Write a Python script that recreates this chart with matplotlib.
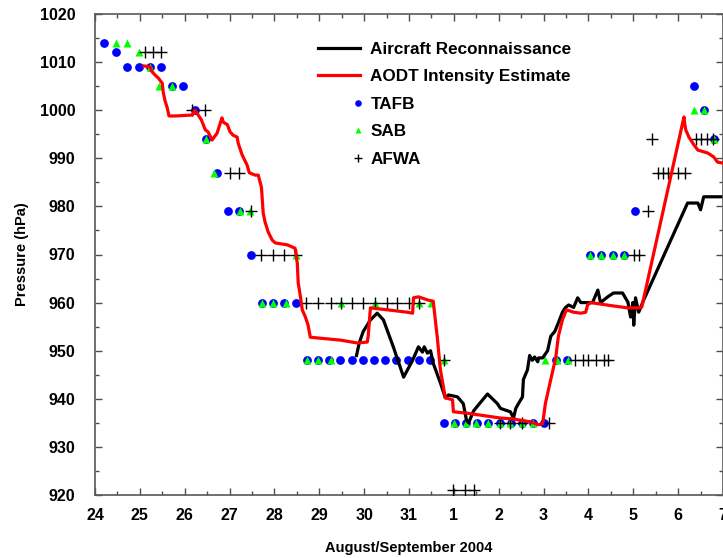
import numpy as np
import matplotlib
matplotlib.use("Agg")
import matplotlib.pyplot as plt
from matplotlib.legend_handler import HandlerLine2D

plt.rcParams['font.family'] = ['Liberation Sans', 'DejaVu Sans']
plt.rcParams['font.weight'] = 'bold'

# x = days since 24 Aug 2004 00Z
day_labels = ['24', '25', '26', '27', '28', '29', '30', '31',
              '1', '2', '3', '4', '5', '6', '7']

# Aircraft reconnaissance
recon_t = [5.83, 5.89, 5.98, 6.14, 6.29, 6.43, 6.65, 6.88, 7.08, 7.21, 7.30, 7.34,
           7.41, 7.48, 7.54, 7.70, 7.81, 7.88, 8.08, 8.21, 8.28, 8.33, 8.44, 8.59,
           8.75, 8.97, 9.04, 9.26, 9.33, 9.38, 9.44, 9.53, 9.55, 9.64, 9.69, 9.75,
           9.80, 9.87, 9.89, 9.98, 10.09, 10.16, 10.25, 10.33, 10.42, 10.49, 10.56,
           10.67, 10.76, 10.83, 10.98, 11.09, 11.21, 11.27, 11.43, 11.56, 11.76,
           11.88, 11.94, 11.99, 12.01, 12.05, 12.12, 12.23, 13.21, 13.44, 13.50,
           13.57, 13.79, 13.95]
recon_p = [949, 951.6, 954, 956.4, 957.8, 956.4, 950.8, 944.5, 948, 950.8, 949.7, 950.8,
           949.5, 950, 947.4, 943.3, 940.2, 940.8, 940.4, 939, 935.6, 935, 937.5, 939.2,
           941, 939, 938, 937.3, 936, 938, 939, 940.4, 944, 946, 949, 948,
           948.7, 947.7, 948.5, 948.5, 950, 953, 954, 955.8, 958, 959, 959.5,
           959, 961, 960, 960, 960, 962.6, 960, 961.2, 962, 962,
           960.1, 957, 960, 955.3, 961, 958, 960.5, 980.7, 980.7, 979.3,
           982, 982, 982]

# AODT intensity estimate
aodt_t = [1.09, 1.23, 1.27, 1.34, 1.41, 1.50, 1.52, 1.56, 1.61, 1.65, 1.79, 2.17,
          2.23, 2.30, 2.37, 2.46, 2.52, 2.61, 2.72, 2.83, 2.86, 2.95, 3.01, 3.08,
          3.17, 3.19, 3.28, 3.39, 3.44, 3.57, 3.64, 3.71, 3.73, 3.75, 3.79, 3.86,
          3.95, 4.02, 4.29, 4.46, 4.51, 4.53, 4.58, 4.62, 4.69, 4.75, 4.80, 5.02,
          5.47, 5.85, 6.07, 6.09, 6.14, 6.52, 6.96, 7.08, 7.10, 7.21, 7.43, 7.54,
          7.63, 7.70, 7.81, 7.97, 7.99, 8.30, 9.04, 9.33, 9.71, 9.89, 9.98, 10.04,
          10.16, 10.27, 10.33, 10.42, 10.51, 10.67, 10.83, 10.94, 10.98, 11.05,
          11.27, 11.56, 11.88, 12.12, 12.19, 13.13, 13.15, 13.17, 13.24, 13.35,
          13.44, 13.66, 13.79, 13.88, 14.0]
aodt_p = [1009.2, 1009, 1008, 1007.3, 1006.7, 1005.6, 1003.8, 1002, 1000.5, 998.8, 998.8, 999,
          1000, 999, 998, 995.9, 995.5, 993.8, 995.2, 998.4, 997.5, 997, 995.5, 994.8,
          994.4, 993.2, 990.7, 988.6, 987, 986.5, 986.5, 984, 981.3, 978.6, 976.8, 974.7,
          973, 972.4, 972, 971.3, 968.2, 964.1, 961.2, 958.5, 957, 955.3, 952.8, 952.6,
          952.2, 951.6, 951.8, 953, 958.9, 958.5, 958, 957.8, 961, 961.2, 960.5, 960.3,
          952.8, 946, 940.2, 939.8, 937.3, 937, 936, 935.8, 935.2, 934.6, 934.8, 939,
          944, 948.5, 953, 956.4, 958.5, 958, 957.8, 958, 959.5, 960,
          959.7, 959.3, 958.9, 958.9, 959.1, 998.6, 997, 995.9, 994.4, 992.8,
          991.7, 991.1, 990.3, 989.2, 989]

# TAFB Dvorak estimates
tafb_t = [0.20, 0.47, 0.72, 0.97, 1.22, 1.47, 1.72, 1.97, 2.22, 2.47, 2.72, 2.97,
          3.22, 3.47, 3.72, 3.97, 4.22, 4.47, 4.72, 4.97, 5.22, 5.47, 5.72, 5.97,
          6.22, 6.47, 6.72, 6.97, 7.22, 7.47, 7.77, 8.02, 8.27, 8.52, 8.77, 9.02,
          9.27, 9.52, 9.77, 10.02, 10.27, 10.52, 11.03, 11.29, 11.54, 11.79, 12.03,
          13.35, 13.57, 13.79]
tafb_p = [1014, 1012, 1009, 1009, 1009, 1009, 1005, 1005, 1000, 994, 987, 979,
          979, 970, 960, 960, 960, 960, 948, 948, 948, 948, 948, 948,
          948, 948, 948, 948, 948, 948, 935, 935, 935, 935, 935, 935,
          935, 935, 935, 935, 948, 948, 970, 970, 970, 970, 979,
          1005, 1000, 994]

# SAB Dvorak estimates
sab_t = [0.47, 0.72, 0.97, 1.22, 1.43, 1.72, 2.48, 2.66, 3.24, 3.46, 3.73, 3.97,
         4.26, 4.49, 4.73, 4.98, 5.25, 5.49, 6.25, 7.23, 7.48, 7.77, 8.01, 8.26,
         8.50, 8.77, 9.02, 9.26, 9.51, 9.76, 10.04, 10.31, 10.54, 11.03, 11.29,
         11.54, 11.79, 13.35, 13.57, 13.79]
sab_p = [1014, 1014, 1012, 1009, 1005, 1005, 994, 987, 979, 979, 960, 960,
         960, 970, 948, 948, 948, 960, 960, 960, 960, 948, 935, 935,
         935, 935, 935, 935, 935, 935, 948, 948, 948, 970, 970,
         970, 970, 1000, 1000, 994]

# AFWA Dvorak estimates
afwa_t = [1.12, 1.29, 1.47, 2.17, 2.46, 3.01, 3.21, 3.48, 3.71, 3.97, 4.22, 4.49,
          4.71, 4.98, 5.25, 5.49, 5.74, 5.98, 6.25, 6.50, 6.74, 6.99, 7.23, 7.77,
          7.99, 8.24, 8.44, 9.02, 9.26, 9.51, 10.11, 10.71, 10.87, 11.00, 11.16,
          11.34, 11.43, 12.01, 12.12, 12.32, 12.41, 12.54, 12.66, 12.77, 13.00,
          13.15, 13.39, 13.50, 13.64, 13.77]
afwa_p = [1012, 1012, 1012, 1000, 1000, 987, 987, 979, 970, 970, 970, 970,
          960, 960, 960, 960, 960, 960, 960, 960, 960, 960, 960, 948,
          921, 921, 921, 935, 935, 935, 935, 948, 948, 948, 948,
          948, 948, 970, 970, 979, 994, 987, 987, 987, 987,
          987, 994, 994, 994, 994]


class RightMarker(HandlerLine2D):
    # put the legend marker at the right end of the handle
    def get_xdata(self, legend, xdescent, ydescent, width, height, fontsize):
        x = -xdescent + width * 0.95
        return [x], [x]


fig = plt.figure(figsize=(7.23, 5.58), dpi=100)
ax = fig.add_axes([95 / 723, 63 / 558, 628 / 723, 481 / 558])

ax.plot(recon_t, recon_p, color='black', lw=2.3, label='Aircraft Reconnaissance', zorder=3)
ax.plot(aodt_t, aodt_p, color='#ff0000', lw=2.3, label='AODT Intensity Estimate', zorder=4)
ax.plot(tafb_t, tafb_p, ls='none', marker='o', ms=6.3, color='#0000ff', mec='none',
        label='TAFB', zorder=2)
ax.plot(sab_t, sab_p, ls='none', marker='^', ms=6.3, color='#00ff00', mec='none',
        label='SAB', zorder=2.5)
ax.plot(afwa_t, afwa_p, ls='none', marker='+', ms=8, mew=1.0, color='black',
        label='AFWA', zorder=2.7)

ax.set_xlim(0, 14)
ax.set_ylim(920, 1020)
ax.set_xticks(np.arange(0, 15))
ax.set_xticklabels(day_labels)
ax.set_xticks(np.arange(0.5, 14, 1), minor=True)
ax.set_yticks(np.arange(920, 1021, 10))
ax.set_yticks(np.arange(925, 1020, 10), minor=True)
ax.tick_params(which='both', direction='in', top=True, right=True, color='0.3')
ax.tick_params(which='major', length=5, width=1, labelsize=11.5)
ax.tick_params(axis='x', which='major', pad=9.5)
ax.tick_params(axis='y', which='major', pad=14)
ax.tick_params(which='minor', length=3, width=1)
for lab in ax.get_xticklabels() + ax.get_yticklabels():
    lab.set_fontweight('bold')
for sp in ax.spines.values():
    sp.set_color('0.35')
    sp.set_linewidth(1.2)

ax.set_xlabel('August/September 2004', fontsize=10.5, fontweight='bold', labelpad=13)
ax.set_ylabel('Pressure (hPa)', fontsize=10.5, fontweight='bold', labelpad=8)

hmap = {ax.get_lines()[i]: RightMarker() for i in (2, 3, 4)}
leg = ax.legend(loc='upper left', bbox_to_anchor=(0.331, 0.974), frameon=False,
                fontsize=12.3, handlelength=2.45, handletextpad=0.6, labelspacing=0.73,
                markerscale=0.75, handler_map=hmap)
for t in leg.get_texts():
    t.set_fontweight('bold')

fig.savefig('out.png', dpi=100)
